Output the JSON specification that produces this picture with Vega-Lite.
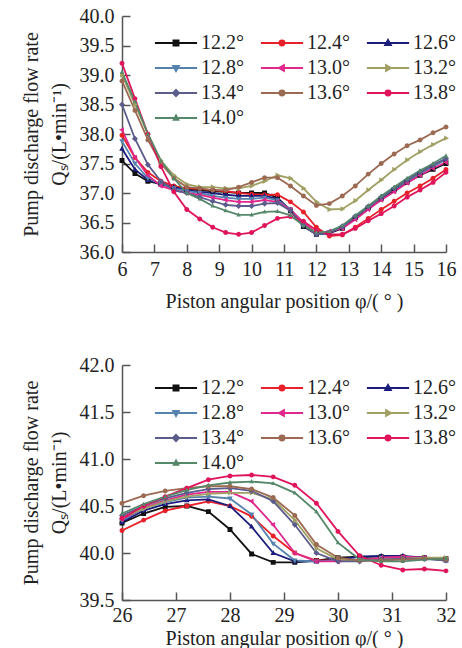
{
"$schema": "https://vega.github.io/schema/vega-lite/v6.json",
"padding": {"left": 21, "top": 6, "right": 5, "bottom": 2},
"config": {
  "font": "Liberation Serif",
  "view": {"stroke": null},
  "axis": {"grid": false, "domainColor": "#555", "domainWidth": 1.5, "tickColor": "#555", "tickWidth": 1.5, "tickSize": -8, "labelFontSize": 20, "titleFontSize": 20, "titleFontWeight": "normal", "labelColor": "#222", "titleColor": "#222", "labelOverlap": false, "labelFlush": false},
  "axisX": {"labelPadding": 15, "titlePadding": 12},
  "axisY": {"labelPadding": 16, "titlePadding": 10, "titleLineHeight": 28},
  "concat": {"spacing": 44},
  "legend": {"title": null, "orient": "none", "direction": "horizontal", "columns": 3, "columnPadding": 8, "rowPadding": 5, "labelFontSize": 20, "labelColor": "#222", "symbolSize": 30, "symbolOffset": 20, "labelOffset": 15, "symbolStrokeWidth": 2}
},
"datasets": {
"top": [
{"a":"12.2°","x":6,"y":37.55},{"a":"12.2°","x":6.4,"y":37.33},{"a":"12.2°","x":6.8,"y":37.2},{"a":"12.2°","x":7.2,"y":37.15},{"a":"12.2°","x":7.6,"y":37.1},{"a":"12.2°","x":8,"y":37.07},{"a":"12.2°","x":8.4,"y":37.05},{"a":"12.2°","x":8.8,"y":37.03},{"a":"12.2°","x":9.2,"y":37.02},{"a":"12.2°","x":9.6,"y":37.0},{"a":"12.2°","x":10,"y":37.0},{"a":"12.2°","x":10.4,"y":37.0},{"a":"12.2°","x":10.8,"y":36.92},{"a":"12.2°","x":11.2,"y":36.7},{"a":"12.2°","x":11.6,"y":36.43},{"a":"12.2°","x":12,"y":36.3},{"a":"12.2°","x":12.4,"y":36.32},{"a":"12.2°","x":12.8,"y":36.4},{"a":"12.2°","x":13.2,"y":36.58},{"a":"12.2°","x":13.6,"y":36.75},{"a":"12.2°","x":14,"y":36.9},{"a":"12.2°","x":14.4,"y":37.05},{"a":"12.2°","x":14.8,"y":37.18},{"a":"12.2°","x":15.2,"y":37.3},{"a":"12.2°","x":15.6,"y":37.4},{"a":"12.2°","x":16,"y":37.5},
{"a":"12.4°","x":6,"y":37.98},{"a":"12.4°","x":6.4,"y":37.6},{"a":"12.4°","x":6.8,"y":37.35},{"a":"12.4°","x":7.2,"y":37.2},{"a":"12.4°","x":7.6,"y":37.12},{"a":"12.4°","x":8,"y":37.08},{"a":"12.4°","x":8.4,"y":37.07},{"a":"12.4°","x":8.8,"y":37.05},{"a":"12.4°","x":9.2,"y":37.03},{"a":"12.4°","x":9.6,"y":37.0},{"a":"12.4°","x":10,"y":36.98},{"a":"12.4°","x":10.4,"y":36.97},{"a":"12.4°","x":10.8,"y":36.97},{"a":"12.4°","x":11.2,"y":36.85},{"a":"12.4°","x":11.6,"y":36.68},{"a":"12.4°","x":12,"y":36.42},{"a":"12.4°","x":12.4,"y":36.27},{"a":"12.4°","x":12.8,"y":36.29},{"a":"12.4°","x":13.2,"y":36.42},{"a":"12.4°","x":13.6,"y":36.57},{"a":"12.4°","x":14,"y":36.72},{"a":"12.4°","x":14.4,"y":36.86},{"a":"12.4°","x":14.8,"y":37.0},{"a":"12.4°","x":15.2,"y":37.12},{"a":"12.4°","x":15.6,"y":37.25},{"a":"12.4°","x":16,"y":37.4},
{"a":"12.6°","x":6,"y":37.75},{"a":"12.6°","x":6.4,"y":37.4},{"a":"12.6°","x":6.8,"y":37.22},{"a":"12.6°","x":7.2,"y":37.15},{"a":"12.6°","x":7.6,"y":37.1},{"a":"12.6°","x":8,"y":37.05},{"a":"12.6°","x":8.4,"y":37.02},{"a":"12.6°","x":8.8,"y":37.0},{"a":"12.6°","x":9.2,"y":36.97},{"a":"12.6°","x":9.6,"y":36.95},{"a":"12.6°","x":10,"y":36.95},{"a":"12.6°","x":10.4,"y":36.95},{"a":"12.6°","x":10.8,"y":36.9},{"a":"12.6°","x":11.2,"y":36.72},{"a":"12.6°","x":11.6,"y":36.45},{"a":"12.6°","x":12,"y":36.3},{"a":"12.6°","x":12.4,"y":36.32},{"a":"12.6°","x":12.8,"y":36.42},{"a":"12.6°","x":13.2,"y":36.6},{"a":"12.6°","x":13.6,"y":36.77},{"a":"12.6°","x":14,"y":36.93},{"a":"12.6°","x":14.4,"y":37.08},{"a":"12.6°","x":14.8,"y":37.22},{"a":"12.6°","x":15.2,"y":37.35},{"a":"12.6°","x":15.6,"y":37.47},{"a":"12.6°","x":16,"y":37.58},
{"a":"12.8°","x":6,"y":37.88},{"a":"12.8°","x":6.4,"y":37.5},{"a":"12.8°","x":6.8,"y":37.25},{"a":"12.8°","x":7.2,"y":37.15},{"a":"12.8°","x":7.6,"y":37.08},{"a":"12.8°","x":8,"y":37.03},{"a":"12.8°","x":8.4,"y":37.0},{"a":"12.8°","x":8.8,"y":36.95},{"a":"12.8°","x":9.2,"y":36.92},{"a":"12.8°","x":9.6,"y":36.9},{"a":"12.8°","x":10,"y":36.9},{"a":"12.8°","x":10.4,"y":36.92},{"a":"12.8°","x":10.8,"y":36.88},{"a":"12.8°","x":11.2,"y":36.72},{"a":"12.8°","x":11.6,"y":36.45},{"a":"12.8°","x":12,"y":36.3},{"a":"12.8°","x":12.4,"y":36.33},{"a":"12.8°","x":12.8,"y":36.43},{"a":"12.8°","x":13.2,"y":36.6},{"a":"12.8°","x":13.6,"y":36.76},{"a":"12.8°","x":14,"y":36.92},{"a":"12.8°","x":14.4,"y":37.07},{"a":"12.8°","x":14.8,"y":37.2},{"a":"12.8°","x":15.2,"y":37.33},{"a":"12.8°","x":15.6,"y":37.45},{"a":"12.8°","x":16,"y":37.57},
{"a":"13.0°","x":6,"y":38.07},{"a":"13.0°","x":6.4,"y":37.6},{"a":"13.0°","x":6.8,"y":37.3},{"a":"13.0°","x":7.2,"y":37.12},{"a":"13.0°","x":7.6,"y":37.05},{"a":"13.0°","x":8,"y":37.0},{"a":"13.0°","x":8.4,"y":36.97},{"a":"13.0°","x":8.8,"y":36.92},{"a":"13.0°","x":9.2,"y":36.88},{"a":"13.0°","x":9.6,"y":36.85},{"a":"13.0°","x":10,"y":36.85},{"a":"13.0°","x":10.4,"y":36.88},{"a":"13.0°","x":10.8,"y":36.85},{"a":"13.0°","x":11.2,"y":36.72},{"a":"13.0°","x":11.6,"y":36.5},{"a":"13.0°","x":12,"y":36.32},{"a":"13.0°","x":12.4,"y":36.35},{"a":"13.0°","x":12.8,"y":36.4},{"a":"13.0°","x":13.2,"y":36.55},{"a":"13.0°","x":13.6,"y":36.72},{"a":"13.0°","x":14,"y":36.88},{"a":"13.0°","x":14.4,"y":37.02},{"a":"13.0°","x":14.8,"y":37.17},{"a":"13.0°","x":15.2,"y":37.3},{"a":"13.0°","x":15.6,"y":37.42},{"a":"13.0°","x":16,"y":37.52},
{"a":"13.2°","x":6,"y":39.0},{"a":"13.2°","x":6.4,"y":38.5},{"a":"13.2°","x":6.8,"y":38.0},{"a":"13.2°","x":7.2,"y":37.55},{"a":"13.2°","x":7.6,"y":37.3},{"a":"13.2°","x":8,"y":37.15},{"a":"13.2°","x":8.4,"y":37.1},{"a":"13.2°","x":8.8,"y":37.1},{"a":"13.2°","x":9.2,"y":37.08},{"a":"13.2°","x":9.6,"y":37.08},{"a":"13.2°","x":10,"y":37.12},{"a":"13.2°","x":10.4,"y":37.2},{"a":"13.2°","x":10.8,"y":37.3},{"a":"13.2°","x":11.2,"y":37.25},{"a":"13.2°","x":11.6,"y":37.08},{"a":"13.2°","x":12,"y":36.85},{"a":"13.2°","x":12.4,"y":36.72},{"a":"13.2°","x":12.8,"y":36.73},{"a":"13.2°","x":13.2,"y":36.87},{"a":"13.2°","x":13.6,"y":37.05},{"a":"13.2°","x":14,"y":37.22},{"a":"13.2°","x":14.4,"y":37.4},{"a":"13.2°","x":14.8,"y":37.56},{"a":"13.2°","x":15.2,"y":37.7},{"a":"13.2°","x":15.6,"y":37.82},{"a":"13.2°","x":16,"y":37.93},
{"a":"13.4°","x":6,"y":38.5},{"a":"13.4°","x":6.4,"y":37.92},{"a":"13.4°","x":6.8,"y":37.48},{"a":"13.4°","x":7.2,"y":37.2},{"a":"13.4°","x":7.6,"y":37.05},{"a":"13.4°","x":8,"y":37.0},{"a":"13.4°","x":8.4,"y":36.93},{"a":"13.4°","x":8.8,"y":36.86},{"a":"13.4°","x":9.2,"y":36.8},{"a":"13.4°","x":9.6,"y":36.78},{"a":"13.4°","x":10,"y":36.78},{"a":"13.4°","x":10.4,"y":36.82},{"a":"13.4°","x":10.8,"y":36.83},{"a":"13.4°","x":11.2,"y":36.7},{"a":"13.4°","x":11.6,"y":36.45},{"a":"13.4°","x":12,"y":36.3},{"a":"13.4°","x":12.4,"y":36.33},{"a":"13.4°","x":12.8,"y":36.43},{"a":"13.4°","x":13.2,"y":36.6},{"a":"13.4°","x":13.6,"y":36.77},{"a":"13.4°","x":14,"y":36.93},{"a":"13.4°","x":14.4,"y":37.08},{"a":"13.4°","x":14.8,"y":37.22},{"a":"13.4°","x":15.2,"y":37.35},{"a":"13.4°","x":15.6,"y":37.47},{"a":"13.4°","x":16,"y":37.58},
{"a":"13.6°","x":6,"y":38.9},{"a":"13.6°","x":6.4,"y":38.4},{"a":"13.6°","x":6.8,"y":37.9},{"a":"13.6°","x":7.2,"y":37.5},{"a":"13.6°","x":7.6,"y":37.25},{"a":"13.6°","x":8,"y":37.1},{"a":"13.6°","x":8.4,"y":37.08},{"a":"13.6°","x":8.8,"y":37.05},{"a":"13.6°","x":9.2,"y":37.05},{"a":"13.6°","x":9.6,"y":37.1},{"a":"13.6°","x":10,"y":37.18},{"a":"13.6°","x":10.4,"y":37.26},{"a":"13.6°","x":10.8,"y":37.26},{"a":"13.6°","x":11.2,"y":37.12},{"a":"13.6°","x":11.6,"y":36.95},{"a":"13.6°","x":12,"y":36.79},{"a":"13.6°","x":12.4,"y":36.82},{"a":"13.6°","x":12.8,"y":36.95},{"a":"13.6°","x":13.2,"y":37.12},{"a":"13.6°","x":13.6,"y":37.32},{"a":"13.6°","x":14,"y":37.5},{"a":"13.6°","x":14.4,"y":37.66},{"a":"13.6°","x":14.8,"y":37.8},{"a":"13.6°","x":15.2,"y":37.9},{"a":"13.6°","x":15.6,"y":38.02},{"a":"13.6°","x":16,"y":38.12},
{"a":"13.8°","x":6,"y":39.2},{"a":"13.8°","x":6.4,"y":38.6},{"a":"13.8°","x":6.8,"y":38.0},{"a":"13.8°","x":7.2,"y":37.45},{"a":"13.8°","x":7.6,"y":37.02},{"a":"13.8°","x":8,"y":36.72},{"a":"13.8°","x":8.4,"y":36.56},{"a":"13.8°","x":8.8,"y":36.42},{"a":"13.8°","x":9.2,"y":36.33},{"a":"13.8°","x":9.6,"y":36.3},{"a":"13.8°","x":10,"y":36.33},{"a":"13.8°","x":10.4,"y":36.45},{"a":"13.8°","x":10.8,"y":36.57},{"a":"13.8°","x":11.2,"y":36.6},{"a":"13.8°","x":11.6,"y":36.52},{"a":"13.8°","x":12,"y":36.37},{"a":"13.8°","x":12.4,"y":36.3},{"a":"13.8°","x":12.8,"y":36.3},{"a":"13.8°","x":13.2,"y":36.4},{"a":"13.8°","x":13.6,"y":36.53},{"a":"13.8°","x":14,"y":36.65},{"a":"13.8°","x":14.4,"y":36.78},{"a":"13.8°","x":14.8,"y":36.93},{"a":"13.8°","x":15.2,"y":37.05},{"a":"13.8°","x":15.6,"y":37.18},{"a":"13.8°","x":16,"y":37.35},
{"a":"14.0°","x":6,"y":39.05},{"a":"14.0°","x":6.4,"y":38.55},{"a":"14.0°","x":6.8,"y":38.0},{"a":"14.0°","x":7.2,"y":37.55},{"a":"14.0°","x":7.6,"y":37.25},{"a":"14.0°","x":8,"y":37.0},{"a":"14.0°","x":8.4,"y":36.9},{"a":"14.0°","x":8.8,"y":36.78},{"a":"14.0°","x":9.2,"y":36.7},{"a":"14.0°","x":9.6,"y":36.63},{"a":"14.0°","x":10,"y":36.63},{"a":"14.0°","x":10.4,"y":36.68},{"a":"14.0°","x":10.8,"y":36.69},{"a":"14.0°","x":11.2,"y":36.62},{"a":"14.0°","x":11.6,"y":36.45},{"a":"14.0°","x":12,"y":36.33},{"a":"14.0°","x":12.4,"y":36.35},{"a":"14.0°","x":12.8,"y":36.45},{"a":"14.0°","x":13.2,"y":36.62},{"a":"14.0°","x":13.6,"y":36.78},{"a":"14.0°","x":14,"y":36.95},{"a":"14.0°","x":14.4,"y":37.1},{"a":"14.0°","x":14.8,"y":37.25},{"a":"14.0°","x":15.2,"y":37.38},{"a":"14.0°","x":15.6,"y":37.5},{"a":"14.0°","x":16,"y":37.63}
],
"bot": [
{"a":"12.2°","x":26,"y":40.32},{"a":"12.2°","x":26.4,"y":40.42},{"a":"12.2°","x":26.8,"y":40.49},{"a":"12.2°","x":27.2,"y":40.5},{"a":"12.2°","x":27.6,"y":40.44},{"a":"12.2°","x":28,"y":40.25},{"a":"12.2°","x":28.4,"y":39.99},{"a":"12.2°","x":28.8,"y":39.9},{"a":"12.2°","x":29.2,"y":39.9},{"a":"12.2°","x":29.6,"y":39.92},{"a":"12.2°","x":30,"y":39.95},{"a":"12.2°","x":30.4,"y":39.96},{"a":"12.2°","x":30.8,"y":39.96},{"a":"12.2°","x":31.2,"y":39.96},{"a":"12.2°","x":31.6,"y":39.95},{"a":"12.2°","x":32,"y":39.94},
{"a":"12.4°","x":26,"y":40.24},{"a":"12.4°","x":26.4,"y":40.35},{"a":"12.4°","x":26.8,"y":40.45},{"a":"12.4°","x":27.2,"y":40.5},{"a":"12.4°","x":27.6,"y":40.55},{"a":"12.4°","x":28,"y":40.5},{"a":"12.4°","x":28.4,"y":40.39},{"a":"12.4°","x":28.8,"y":40.18},{"a":"12.4°","x":29.2,"y":40.0},{"a":"12.4°","x":29.6,"y":39.92},{"a":"12.4°","x":30,"y":39.92},{"a":"12.4°","x":30.4,"y":39.93},{"a":"12.4°","x":30.8,"y":39.95},{"a":"12.4°","x":31.2,"y":39.96},{"a":"12.4°","x":31.6,"y":39.95},{"a":"12.4°","x":32,"y":39.93},
{"a":"12.6°","x":26,"y":40.33},{"a":"12.6°","x":26.4,"y":40.45},{"a":"12.6°","x":26.8,"y":40.52},{"a":"12.6°","x":27.2,"y":40.56},{"a":"12.6°","x":27.6,"y":40.57},{"a":"12.6°","x":28,"y":40.5},{"a":"12.6°","x":28.4,"y":40.28},{"a":"12.6°","x":28.8,"y":40.0},{"a":"12.6°","x":29.2,"y":39.91},{"a":"12.6°","x":29.6,"y":39.91},{"a":"12.6°","x":30,"y":39.93},{"a":"12.6°","x":30.4,"y":39.96},{"a":"12.6°","x":30.8,"y":39.97},{"a":"12.6°","x":31.2,"y":39.97},{"a":"12.6°","x":31.6,"y":39.95},{"a":"12.6°","x":32,"y":39.92},
{"a":"12.8°","x":26,"y":40.35},{"a":"12.8°","x":26.4,"y":40.47},{"a":"12.8°","x":26.8,"y":40.54},{"a":"12.8°","x":27.2,"y":40.59},{"a":"12.8°","x":27.6,"y":40.6},{"a":"12.8°","x":28,"y":40.58},{"a":"12.8°","x":28.4,"y":40.41},{"a":"12.8°","x":28.8,"y":40.1},{"a":"12.8°","x":29.2,"y":39.92},{"a":"12.8°","x":29.6,"y":39.91},{"a":"12.8°","x":30,"y":39.92},{"a":"12.8°","x":30.4,"y":39.93},{"a":"12.8°","x":30.8,"y":39.95},{"a":"12.8°","x":31.2,"y":39.95},{"a":"12.8°","x":31.6,"y":39.94},{"a":"12.8°","x":32,"y":39.92},
{"a":"13.0°","x":26,"y":40.36},{"a":"13.0°","x":26.4,"y":40.48},{"a":"13.0°","x":26.8,"y":40.56},{"a":"13.0°","x":27.2,"y":40.62},{"a":"13.0°","x":27.6,"y":40.65},{"a":"13.0°","x":28,"y":40.65},{"a":"13.0°","x":28.4,"y":40.55},{"a":"13.0°","x":28.8,"y":40.3},{"a":"13.0°","x":29.2,"y":40.0},{"a":"13.0°","x":29.6,"y":39.91},{"a":"13.0°","x":30,"y":39.91},{"a":"13.0°","x":30.4,"y":39.92},{"a":"13.0°","x":30.8,"y":39.95},{"a":"13.0°","x":31.2,"y":39.96},{"a":"13.0°","x":31.6,"y":39.95},{"a":"13.0°","x":32,"y":39.93},
{"a":"13.2°","x":26,"y":40.38},{"a":"13.2°","x":26.4,"y":40.47},{"a":"13.2°","x":26.8,"y":40.55},{"a":"13.2°","x":27.2,"y":40.6},{"a":"13.2°","x":27.6,"y":40.63},{"a":"13.2°","x":28,"y":40.64},{"a":"13.2°","x":28.4,"y":40.64},{"a":"13.2°","x":28.8,"y":40.57},{"a":"13.2°","x":29.2,"y":40.35},{"a":"13.2°","x":29.6,"y":40.05},{"a":"13.2°","x":30,"y":39.93},{"a":"13.2°","x":30.4,"y":39.92},{"a":"13.2°","x":30.8,"y":39.93},{"a":"13.2°","x":31.2,"y":39.94},{"a":"13.2°","x":31.6,"y":39.95},{"a":"13.2°","x":32,"y":39.95},
{"a":"13.4°","x":26,"y":40.4},{"a":"13.4°","x":26.4,"y":40.5},{"a":"13.4°","x":26.8,"y":40.58},{"a":"13.4°","x":27.2,"y":40.64},{"a":"13.4°","x":27.6,"y":40.68},{"a":"13.4°","x":28,"y":40.69},{"a":"13.4°","x":28.4,"y":40.66},{"a":"13.4°","x":28.8,"y":40.55},{"a":"13.4°","x":29.2,"y":40.3},{"a":"13.4°","x":29.6,"y":40.0},{"a":"13.4°","x":30,"y":39.91},{"a":"13.4°","x":30.4,"y":39.91},{"a":"13.4°","x":30.8,"y":39.93},{"a":"13.4°","x":31.2,"y":39.94},{"a":"13.4°","x":31.6,"y":39.94},{"a":"13.4°","x":32,"y":39.92},
{"a":"13.6°","x":26,"y":40.53},{"a":"13.6°","x":26.4,"y":40.61},{"a":"13.6°","x":26.8,"y":40.66},{"a":"13.6°","x":27.2,"y":40.69},{"a":"13.6°","x":27.6,"y":40.71},{"a":"13.6°","x":28,"y":40.71},{"a":"13.6°","x":28.4,"y":40.68},{"a":"13.6°","x":28.8,"y":40.59},{"a":"13.6°","x":29.2,"y":40.4},{"a":"13.6°","x":29.6,"y":40.09},{"a":"13.6°","x":30,"y":39.95},{"a":"13.6°","x":30.4,"y":39.92},{"a":"13.6°","x":30.8,"y":39.92},{"a":"13.6°","x":31.2,"y":39.93},{"a":"13.6°","x":31.6,"y":39.94},{"a":"13.6°","x":32,"y":39.93},
{"a":"13.8°","x":26,"y":40.37},{"a":"13.8°","x":26.4,"y":40.5},{"a":"13.8°","x":26.8,"y":40.6},{"a":"13.8°","x":27.2,"y":40.69},{"a":"13.8°","x":27.6,"y":40.78},{"a":"13.8°","x":28,"y":40.82},{"a":"13.8°","x":28.4,"y":40.83},{"a":"13.8°","x":28.8,"y":40.81},{"a":"13.8°","x":29.2,"y":40.72},{"a":"13.8°","x":29.6,"y":40.53},{"a":"13.8°","x":30,"y":40.23},{"a":"13.8°","x":30.4,"y":39.97},{"a":"13.8°","x":30.8,"y":39.87},{"a":"13.8°","x":31.2,"y":39.82},{"a":"13.8°","x":31.6,"y":39.83},{"a":"13.8°","x":32,"y":39.81},
{"a":"14.0°","x":26,"y":40.42},{"a":"14.0°","x":26.4,"y":40.52},{"a":"14.0°","x":26.8,"y":40.6},{"a":"14.0°","x":27.2,"y":40.67},{"a":"14.0°","x":27.6,"y":40.72},{"a":"14.0°","x":28,"y":40.75},{"a":"14.0°","x":28.4,"y":40.76},{"a":"14.0°","x":28.8,"y":40.74},{"a":"14.0°","x":29.2,"y":40.64},{"a":"14.0°","x":29.6,"y":40.44},{"a":"14.0°","x":30,"y":40.11},{"a":"14.0°","x":30.4,"y":39.93},{"a":"14.0°","x":30.8,"y":39.91},{"a":"14.0°","x":31.2,"y":39.91},{"a":"14.0°","x":31.6,"y":39.93},{"a":"14.0°","x":32,"y":39.94}
]
},
"resolve": {"legend": {"color": "independent", "shape": "independent"}},
"vconcat": [
{
  "width": 324, "height": 236,
  "data": {"name": "top"},
  "encoding": {
    "x": {"field": "x", "type": "quantitative", "scale": {"domain": [6, 16], "nice": false}, "axis": {"values": [6,7,8,9,10,11,12,13,14,15,16], "format": "d", "title": "Piston angular position φ/( ° )"}},
    "y": {"field": "y", "type": "quantitative", "scale": {"domain": [36, 40], "nice": false, "zero": false}, "axis": {"values": [36,36.5,37,37.5,38,38.5,39,39.5,40], "format": ".1f", "title": ["Pump discharge flow rate", "Qₛ/(L•min⁻¹)"]}},
    "color": {"field": "a", "type": "nominal", "scale": {"domain": ["12.2°","12.4°","12.6°","12.8°","13.0°","13.2°","13.4°","13.6°","13.8°","14.0°"], "range": ["#111111","#e8202a","#1c1c7c","#5583ad","#e0288c","#a0a064","#5c5c8c","#9c6a52","#e0145a","#55886a"]}, "legend": {"legendX": 24, "legendY": 17}}
  },
  "layer": [
    {"mark": {"type": "line", "strokeWidth": 1.8}},
    {"mark": {"type": "point", "filled": true, "size": 30, "opacity": 1, "strokeWidth": 0},
     "encoding": {
       "shape": {"field": "a", "type": "nominal", "scale": {"domain": ["12.2°","12.4°","12.6°","12.8°","13.0°","13.2°","13.4°","13.6°","13.8°","14.0°"], "range": ["M-7.7,0H7.7M-0.9,-0.9H0.9V0.9H-0.9Z","M-7.7,0H7.7M0.9,0A0.9,0.9,0,1,1,-0.9,0A0.9,0.9,0,1,1,0.9,0Z","M-7.7,0H7.7M0,-1.1L1,0.7H-1Z","M-7.7,0H7.7M0,1.1L1,-0.7H-1Z","M-7.7,0H7.7M-1.1,0L0.7,-1V1Z","M-7.7,0H7.7M1.1,0L-0.7,-1V1Z","M-7.7,0H7.7M0,-1.1L1.1,0L0,1.1L-1.1,0Z","M-7.7,0H7.7M0.9,0A0.9,0.9,0,1,1,-0.9,0A0.9,0.9,0,1,1,0.9,0Z","M-7.7,0H7.7M0.9,0A0.9,0.9,0,1,1,-0.9,0A0.9,0.9,0,1,1,0.9,0Z","M-7.7,0H7.7M0,-0.9L0.8,0.6H-0.8Z"]},
         "legend": {"legendX": 24, "legendY": 17}}
     }}
  ]
},
{
  "width": 324, "height": 235,
  "data": {"name": "bot"},
  "encoding": {
    "x": {"field": "x", "type": "quantitative", "scale": {"domain": [26, 32], "nice": false}, "axis": {"values": [26,27,28,29,30,31,32], "format": "d", "labelPadding": 13, "titlePadding": 3, "title": "Piston angular position φ/( ° )"}},
    "y": {"field": "y", "type": "quantitative", "scale": {"domain": [39.5, 42], "nice": false, "zero": false}, "axis": {"values": [39.5,40,40.5,41,41.5,42], "format": ".1f", "title": ["Pump discharge flow rate", "Qₛ/(L•min⁻¹)"]}},
    "color": {"field": "a", "type": "nominal", "legend": {"legendX": 24, "legendY": 13}}
  },
  "layer": [
    {"mark": {"type": "line", "strokeWidth": 1.8}},
    {"mark": {"type": "point", "filled": true, "size": 30, "opacity": 1, "strokeWidth": 0},
     "encoding": {
       "shape": {"field": "a", "type": "nominal", "legend": {"legendX": 24, "legendY": 13}}
     }}
  ]
}
]
}
